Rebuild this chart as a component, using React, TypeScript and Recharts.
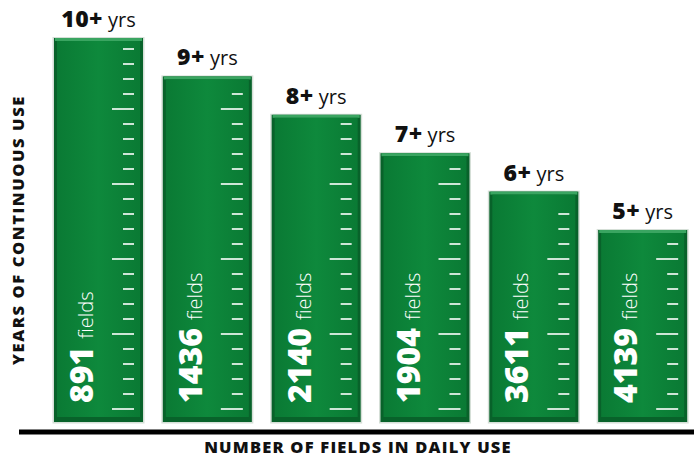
import React from 'react';
import { BarChart, Bar, XAxis, YAxis, LabelList, Customized } from 'recharts';

const categories = ['10+', '9+', '8+', '7+', '6+', '5+'];
const years = [10, 9, 8, 7, 6, 5];
const fields = [891, 1436, 2140, 1904, 3611, 4139];

const data = categories.map((c, i) => ({ cat: c, years: years[i], fields: fields[i] }));

const FONT = '"Open Sans", "DejaVu Sans", sans-serif';

const BarShape = (props: any) => {
  const { x, y, width, height, index } = props;
  const gid = 'g' + index;
  const right = x + width;
  const ticks: React.ReactNode[] = [];
  let k = 0;
  for (let ty = y + height - 13; ty >= y + 8; ty -= 15, k++) {
    const long = k % 5 === 0;
    ticks.push(
      <line key={k} x1={long ? right - 31 : right - 20} x2={right - 9} y1={ty} y2={ty} stroke="#ffffff" strokeWidth={1.6} />
    );
  }
  return (
    <g>
      <defs>
        <linearGradient id={gid} x1="0" y1="0" x2="1" y2="0">
          <stop offset="0" stopColor="#0a7a34" />
          <stop offset="0.5" stopColor="#0e893c" />
          <stop offset="1" stopColor="#0a7a34" />
        </linearGradient>
      </defs>
      <rect x={x - 1.5} y={y - 1} width={width + 3} height={height + 2.5} fill="#b9c9bd" opacity={0.6} />
      <rect x={x} y={y} width={width} height={height} fill="#08622a" />
      <rect x={x + 1} y={y} width={width - 2} height={3} fill="#3aa561" />
      <rect x={x + 3} y={y + 3} width={width - 6} height={height - 8} fill={`url(#${gid})`} />
      {ticks}
    </g>
  );
};

const TopLabel = (props: any) => {
  const { x, y, width, index } = props;
  return (
    <text x={x + width / 2} y={y - 11} textAnchor="middle" fontFamily={FONT} fill="#111">
      <tspan fontSize={23} fontWeight={800} letterSpacing={0.5}>{categories[index]}</tspan>
      <tspan fontSize={20} fontWeight={400} dx={5}>yrs</tspan>
    </text>
  );
};

const InnerLabel = (props: any) => {
  const { x, y, height, index } = props;
  const px = x + 39;
  const py = y + height - 19;
  return (
    <text x={px} y={py} transform={`rotate(-90 ${px} ${py})`} fontFamily={FONT} fill="#ffffff">
      <tspan fontSize={32} fontWeight={800}>{fields[index]}</tspan>
      <tspan fontSize={20} fontWeight={300} dx={8}>fields</tspan>
    </text>
  );
};

const Decor = () => (
  <g>
    <line x1={19} x2={694} y1={432} y2={432} stroke="#000" strokeWidth={5} />
    <text x={358} y={453} textAnchor="middle" fontFamily={FONT} fontSize={16.5} fontWeight={800} letterSpacing={1.2} fill="#111">
      NUMBER OF FIELDS IN DAILY USE
    </text>
    <text x={24} y={230} textAnchor="middle" transform="rotate(-90 24 230)" fontFamily={FONT} fontSize={16.5} fontWeight={800} letterSpacing={1.6} fill="#111">
      YEARS OF CONTINUOUS USE
    </text>
  </g>
);

export default function App() {
  return (
    <div style={{ position: 'absolute', left: 0, top: 0, width: 694, height: 458, overflow: 'hidden', background: '#fff' }}>
      <BarChart width={697} height={458} data={data} margin={{ top: 38, right: 0, bottom: 36, left: 44 }}>
        <XAxis dataKey="cat" hide />
        <YAxis hide domain={[0, 10]} />
        <Bar dataKey="years" barSize={89} shape={<BarShape />} isAnimationActive={false}>
          <LabelList dataKey="years" content={<TopLabel />} />
          <LabelList dataKey="fields" content={<InnerLabel />} />
        </Bar>
        <Customized component={<Decor />} />
      </BarChart>
    </div>
  );
}
